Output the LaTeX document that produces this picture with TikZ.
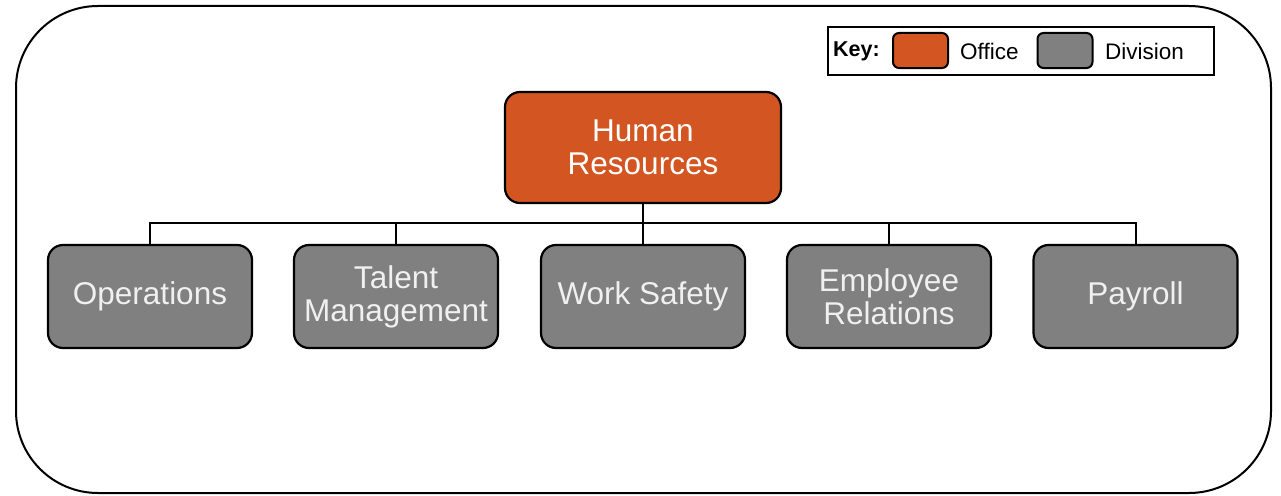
\documentclass[tikz,border=0pt]{standalone}
\usepackage{fontspec}
\setmainfont{Liberation Sans}
\definecolor{office}{RGB}{211,85,33}
\definecolor{division}{RGB}{128,128,128}
\tikzset{
  box/.style={draw=black, line width=2.2pt, rounded corners=15pt, inner sep=0pt, align=center, text=white, font=\fontsize{31.5}{33}\selectfont},
  officebox/.style={box, fill=office, minimum width=276pt, minimum height=111pt},
  divbox/.style={box, fill=division, text=white!94!black, minimum width=204pt, minimum height=103pt},
  swatch/.style={draw=black, line width=2pt, rounded corners=6pt, minimum width=55pt, minimum height=35pt, inner sep=0pt},
  keytext/.style={anchor=west, inner sep=0pt, font=\fontsize{22.5}{24}\selectfont},
  link/.style={draw=black, line width=2pt}
}
\begin{document}
\begin{tikzpicture}[x=1pt,y=-1pt]
\useasboundingbox (0,0) rectangle (1281,495);
\draw[line width=2pt, rounded corners=82pt] (16,6) rectangle (1271,493);
% key
\node[draw=black, line width=1.5pt, minimum width=386pt, minimum height=48pt, inner sep=0pt] (key) at (1021,51) {};
\node[keytext, font=\fontsize{21.5}{24}\selectfont\bfseries] (keylabel) at (833,51) {Key:};
\node[swatch, fill=office] (swo) at (920.5,50.5) {};
\node[keytext] (officelabel) at (960,51) {Office};
\node[swatch, fill=division] (swd) at (1065,50.5) {};
\node[keytext] (divlabel) at (1105,51) {Division};
% nodes
\node[officebox] (hr) at (643,147.5) {Human\\Resources};
\node[divbox] (ops) at (150,296.5) {Operations};
\node[divbox] (tal) at (396,296.5) {Talent\\Management};
\node[divbox] (ws) at (643,296.5) {Work Safety};
\node[divbox] (er) at (889,296.5) {Employee\\Relations};
\node[divbox] (pay) at (1135.5,296.5) {Payroll};
\coordinate (bus) at (643,223);
\draw[link] (hr.south) -- (bus);
\draw[link] (ops.north) |- (bus);
\draw[link] (pay.north) |- (bus);
\draw[link] (tal.north) -- (tal.north |- bus);
\draw[link] (ws.north) -- (bus);
\draw[link] (er.north) -- (er.north |- bus);
\end{tikzpicture}
\end{document}
